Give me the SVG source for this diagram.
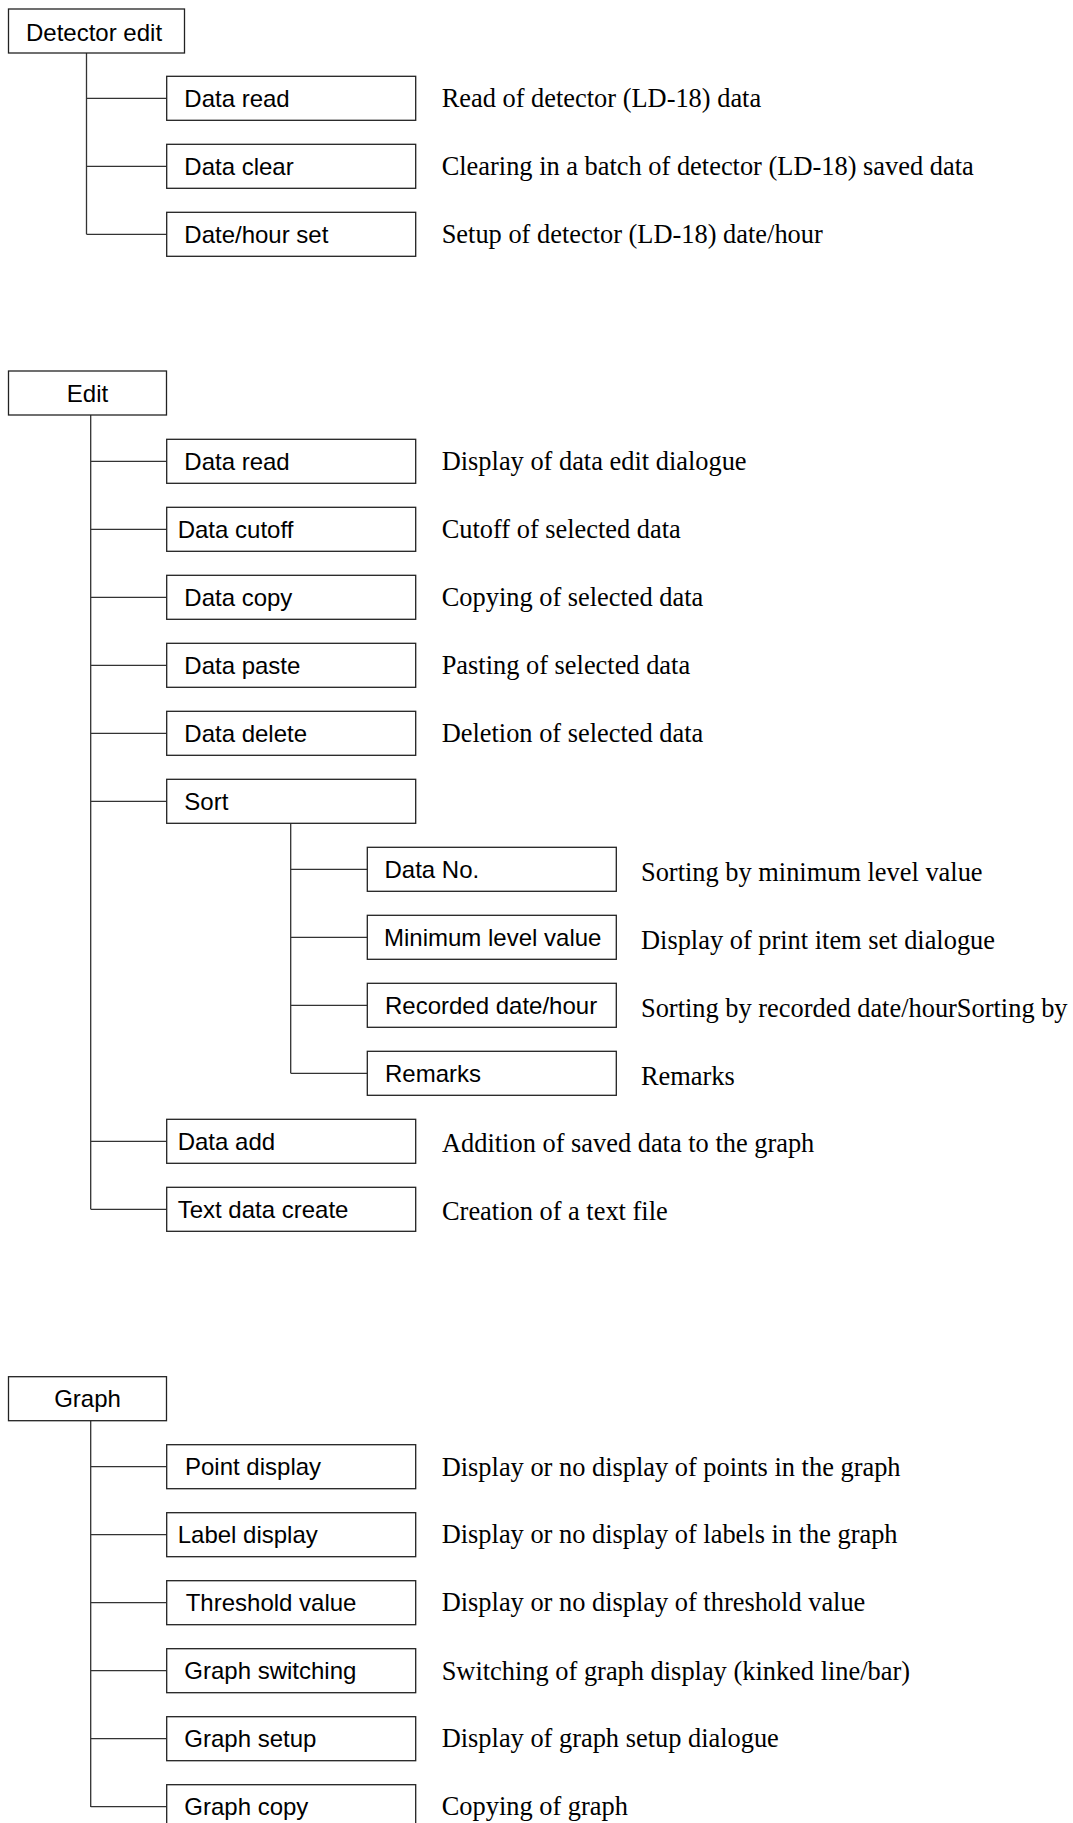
<svg xmlns="http://www.w3.org/2000/svg" width="1073" height="1823" viewBox="0 0 1073 1823">
<style>
.box{fill:#fff;stroke:#222;stroke-width:1.3}
.ln{fill:none;stroke:#333;stroke-width:1.3}
.bt{font-family:"Liberation Sans",Arial,sans-serif;font-size:24px;fill:#000}
.ds{font-family:"Liberation Serif","Times New Roman",serif;font-size:26.4px;fill:#000}
</style>
<rect width="1073" height="1823" fill="#fff"/>
<g id="connectors">
<path class="ln" d="M86.5 53V234.3M86.5 98.3H166.7M86.5 166.3H166.7M86.5 234.3H166.7"/>
<path class="ln" d="M90.7 415V1209.3M90.7 461.3H166.7M90.7 529.3H166.7M90.7 597.3H166.7M90.7 665.3H166.7M90.7 733.3H166.7M90.7 801.3H166.7M90.7 1141.3H166.7M90.7 1209.3H166.7"/>
<path class="ln" d="M290.7 823.3V1073.3M290.7 869.3H367.3M290.7 937.3H367.3M290.7 1005.3H367.3M290.7 1073.3H367.3"/>
<path class="ln" d="M90.7 1421V1807M90.7 1466.7H166.7M90.7 1534.7H166.7M90.7 1602.7H166.7M90.7 1670.7H166.7M90.7 1738.7H166.7M90.7 1806.7H166.7"/>
</g>
<g id="n-detector-edit"><rect class="box" x="8.5" y="9" width="176" height="44"/><text class="bt" x="26" y="40.5">Detector edit</text></g>
<g id="n-d-data-read"><rect class="box" x="166.7" y="76.3" width="249" height="44"/><text class="bt" x="184.3" y="107">Data read</text><text class="ds" x="441.7" y="106.8">Read of detector (LD-18) data</text></g>
<g id="n-d-data-clear"><rect class="box" x="166.7" y="144.3" width="249" height="44"/><text class="bt" x="184.3" y="175">Data clear</text><text class="ds" x="441.7" y="174.8">Clearing in a batch of detector (LD-18) saved data</text></g>
<g id="n-d-date-hour"><rect class="box" x="166.7" y="212.3" width="249" height="44"/><text class="bt" x="184.3" y="243">Date/hour set</text><text class="ds" x="441.7" y="242.8">Setup of detector (LD-18) date/hour</text></g>

<g id="n-edit"><rect class="box" x="8.5" y="371" width="158" height="44"/><text class="bt" x="87.5" y="401.7" text-anchor="middle">Edit</text></g>
<g id="n-e-data-read"><rect class="box" x="166.7" y="439.3" width="249" height="44"/><text class="bt" x="184.3" y="470">Data read</text><text class="ds" x="441.7" y="470">Display of data edit dialogue</text></g>
<g id="n-e-data-cutoff"><rect class="box" x="166.7" y="507.3" width="249" height="44"/><text class="bt" x="177.7" y="538">Data cutoff</text><text class="ds" x="441.7" y="538">Cutoff of selected data</text></g>
<g id="n-e-data-copy"><rect class="box" x="166.7" y="575.3" width="249" height="44"/><text class="bt" x="184.3" y="606">Data copy</text><text class="ds" x="441.7" y="606">Copying of selected data</text></g>
<g id="n-e-data-paste"><rect class="box" x="166.7" y="643.3" width="249" height="44"/><text class="bt" x="184.3" y="674">Data paste</text><text class="ds" x="441.7" y="674">Pasting of selected data</text></g>
<g id="n-e-data-delete"><rect class="box" x="166.7" y="711.3" width="249" height="44"/><text class="bt" x="184.3" y="742">Data delete</text><text class="ds" x="441.7" y="742">Deletion of selected data</text></g>
<g id="n-e-sort"><rect class="box" x="166.7" y="779.3" width="249" height="44"/><text class="bt" x="184.3" y="810">Sort</text></g>
<g id="n-s-data-no"><rect class="box" x="367.3" y="847.3" width="249" height="44"/><text class="bt" x="384.5" y="878">Data No.</text><text class="ds" x="641" y="881">Sorting by minimum level value</text></g>
<g id="n-s-min-level"><rect class="box" x="367.3" y="915.3" width="249" height="44"/><text class="bt" x="384" y="946">Minimum level value</text><text class="ds" x="641" y="949">Display of print item set dialogue</text></g>
<g id="n-s-recorded"><rect class="box" x="367.3" y="983.3" width="249" height="44"/><text class="bt" x="385" y="1014">Recorded date/hour</text><text class="ds" x="641" y="1017">Sorting by recorded date/hourSorting by</text></g>
<g id="n-s-remarks"><rect class="box" x="367.3" y="1051.3" width="249" height="44"/><text class="bt" x="385" y="1082">Remarks</text><text class="ds" x="641" y="1085">Remarks</text></g>
<g id="n-e-data-add"><rect class="box" x="166.7" y="1119.3" width="249" height="44"/><text class="bt" x="177.7" y="1150">Data add</text><text class="ds" x="442" y="1151.5">Addition of saved data to the graph</text></g>
<g id="n-e-text-data"><rect class="box" x="166.7" y="1187.3" width="249" height="44"/><text class="bt" x="177.7" y="1218">Text data create</text><text class="ds" x="442" y="1219.5">Creation of a text file</text></g>

<g id="n-graph"><rect class="box" x="8.5" y="1376.7" width="158" height="44"/><text class="bt" x="87.5" y="1406.7" text-anchor="middle">Graph</text></g>
<g id="n-g-point"><rect class="box" x="166.7" y="1444.7" width="249" height="44"/><text class="bt" x="185" y="1475.4">Point display</text><text class="ds" x="441.7" y="1475.6">Display or no display of points in the graph</text></g>
<g id="n-g-label"><rect class="box" x="166.7" y="1512.7" width="249" height="44"/><text class="bt" x="177.7" y="1543.4">Label display</text><text class="ds" x="441.7" y="1543.4">Display or no display of labels in the graph</text></g>
<g id="n-g-threshold"><rect class="box" x="166.7" y="1580.7" width="249" height="44"/><text class="bt" x="185.7" y="1611.4">Threshold value</text><text class="ds" x="441.7" y="1611.4">Display or no display of threshold value</text></g>
<g id="n-g-switching"><rect class="box" x="166.7" y="1648.7" width="249" height="44"/><text class="bt" x="184.3" y="1679.4">Graph switching</text><text class="ds" x="441.7" y="1679.6">Switching of graph display (kinked line/bar)</text></g>
<g id="n-g-setup"><rect class="box" x="166.7" y="1716.7" width="249" height="44"/><text class="bt" x="184.3" y="1747.4">Graph setup</text><text class="ds" x="441.7" y="1747.4">Display of graph setup dialogue</text></g>
<g id="n-g-copy"><rect class="box" x="166.7" y="1784.7" width="249" height="44"/><text class="bt" x="184.3" y="1815.4">Graph copy</text><text class="ds" x="441.7" y="1815.4">Copying of graph</text></g>
</svg>
